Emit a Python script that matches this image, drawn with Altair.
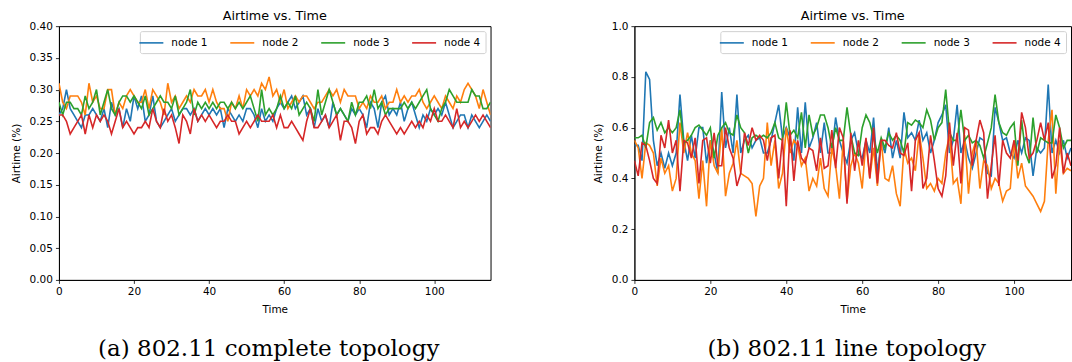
import altair as alt
import pandas as pd

NODES = ["node 1", "node 2", "node 3", "node 4"]
COLORS = ["#1f77b4", "#ff7f0e", "#2ca02c", "#d62728"]

# ---- (a) 802.11 complete topology ----
a_node1 = [0.26, 0.27, 0.30, 0.27, 0.26, 0.25, 0.24, 0.26, 0.26, 0.27,
           0.26, 0.25, 0.27, 0.24, 0.28, 0.26, 0.27, 0.24, 0.27, 0.25,
           0.29, 0.27, 0.29, 0.25, 0.26, 0.29, 0.25, 0.24, 0.25, 0.26,
           0.27, 0.25, 0.26, 0.27, 0.27, 0.26, 0.27, 0.25, 0.26, 0.27,
           0.26, 0.27, 0.26, 0.27, 0.24, 0.27, 0.26, 0.25, 0.26, 0.25,
           0.27, 0.27, 0.26, 0.24, 0.27, 0.25, 0.26, 0.25, 0.27, 0.28,
           0.27, 0.28, 0.29, 0.27, 0.28, 0.29, 0.26, 0.27, 0.24, 0.27,
           0.25, 0.26, 0.24, 0.28, 0.26, 0.27, 0.26, 0.25, 0.27, 0.26,
           0.27, 0.26, 0.24, 0.28, 0.27, 0.24, 0.28, 0.29, 0.26, 0.27,
           0.26, 0.28, 0.25, 0.27, 0.28, 0.26, 0.24, 0.26, 0.25, 0.27,
           0.26, 0.27, 0.26, 0.28, 0.26, 0.24, 0.25, 0.26, 0.26, 0.24,
           0.26, 0.25, 0.24, 0.25, 0.26, 0.25]
a_node2 = [0.31, 0.28, 0.27, 0.29, 0.29, 0.29, 0.28, 0.26, 0.31, 0.28,
           0.29, 0.27, 0.27, 0.30, 0.30, 0.26, 0.28, 0.27, 0.29, 0.30,
           0.29, 0.28, 0.28, 0.30, 0.27, 0.30, 0.29, 0.28, 0.26, 0.31,
           0.28, 0.29, 0.27, 0.28, 0.29, 0.28, 0.30, 0.29, 0.29, 0.30,
           0.28, 0.30, 0.28, 0.27, 0.27, 0.25, 0.28, 0.27, 0.29, 0.27,
           0.30, 0.29, 0.30, 0.29, 0.31, 0.30, 0.32, 0.29, 0.30, 0.28,
           0.30, 0.27, 0.28, 0.29, 0.28, 0.29, 0.29, 0.28, 0.27, 0.28,
           0.28, 0.29, 0.30, 0.29, 0.30, 0.28, 0.30, 0.29, 0.29, 0.29,
           0.27, 0.28, 0.27, 0.29, 0.28, 0.28, 0.29, 0.27, 0.28, 0.28,
           0.30, 0.28, 0.29, 0.28, 0.29, 0.29, 0.30, 0.28, 0.27, 0.28,
           0.29, 0.28, 0.27, 0.29, 0.28, 0.27, 0.29, 0.28, 0.30, 0.31,
           0.30, 0.29, 0.27, 0.30, 0.28, 0.26]
a_node3 = [0.28, 0.26, 0.28, 0.28, 0.27, 0.27, 0.26, 0.29, 0.27, 0.28,
           0.30, 0.26, 0.28, 0.30, 0.27, 0.26, 0.28, 0.29, 0.29, 0.28,
           0.29, 0.28, 0.27, 0.29, 0.26, 0.27, 0.28, 0.29, 0.28, 0.28,
           0.27, 0.29, 0.26, 0.27, 0.28, 0.30, 0.26, 0.28, 0.27, 0.28,
           0.27, 0.28, 0.27, 0.28, 0.28, 0.27, 0.28, 0.27, 0.28, 0.27,
           0.28, 0.29, 0.27, 0.25, 0.30, 0.26, 0.27, 0.26, 0.27, 0.29,
           0.27, 0.28, 0.27, 0.29, 0.26, 0.27, 0.28, 0.27, 0.25, 0.30,
           0.26, 0.28, 0.30, 0.28, 0.26, 0.27, 0.26, 0.25, 0.28, 0.26,
           0.28, 0.28, 0.29, 0.27, 0.30, 0.27, 0.28, 0.26, 0.27, 0.27,
           0.27, 0.27, 0.28, 0.27, 0.28, 0.27, 0.28, 0.29, 0.30, 0.27,
           0.26, 0.25, 0.27, 0.28, 0.30, 0.29, 0.28, 0.28, 0.28, 0.28,
           0.30, 0.29, 0.29, 0.27, 0.27, 0.28]
a_node4 = [0.26, 0.26, 0.25, 0.23, 0.24, 0.25, 0.26, 0.23, 0.26, 0.24,
           0.26, 0.25, 0.26, 0.25, 0.23, 0.25, 0.27, 0.24, 0.25, 0.24,
           0.23, 0.24, 0.24, 0.25, 0.24, 0.27, 0.25, 0.24, 0.27, 0.25,
           0.26, 0.24, 0.215, 0.26, 0.25, 0.23, 0.27, 0.25, 0.26, 0.25,
           0.26, 0.25, 0.24, 0.25, 0.25, 0.26, 0.25, 0.25, 0.23, 0.24,
           0.25, 0.24, 0.25, 0.26, 0.25, 0.25, 0.25, 0.26, 0.24, 0.26,
           0.24, 0.24, 0.25, 0.24, 0.23, 0.22, 0.25, 0.27, 0.24, 0.24,
           0.25, 0.26, 0.24, 0.25, 0.26, 0.22, 0.25, 0.25, 0.24, 0.215,
           0.25, 0.26, 0.23, 0.24, 0.24, 0.23, 0.25, 0.26, 0.25, 0.24,
           0.23, 0.24, 0.23, 0.24, 0.25, 0.24, 0.25, 0.24, 0.26, 0.25,
           0.27, 0.25, 0.25, 0.26, 0.25, 0.24, 0.27, 0.24, 0.25, 0.24,
           0.25, 0.26, 0.25, 0.26, 0.25, 0.24]

# ---- (b) 802.11 line topology ----
b_node1 = [0.53, 0.53, 0.47, 0.82, 0.79, 0.55, 0.45, 0.50, 0.44, 0.50,
           0.45, 0.50, 0.73, 0.55, 0.47, 0.57, 0.48, 0.60, 0.60, 0.46,
           0.55, 0.50, 0.42, 0.74, 0.52, 0.60, 0.50, 0.73, 0.50, 0.55,
           0.57, 0.52, 0.55, 0.56, 0.50, 0.50, 0.55, 0.62, 0.69, 0.56,
           0.60, 0.56, 0.47, 0.68, 0.50, 0.70, 0.52, 0.56, 0.62, 0.50,
           0.62, 0.50, 0.50, 0.64, 0.55, 0.50, 0.46, 0.55, 0.58, 0.50,
           0.48, 0.55, 0.50, 0.64, 0.42, 0.55, 0.50, 0.60, 0.48, 0.55,
           0.48, 0.66, 0.56, 0.58, 0.55, 0.63, 0.55, 0.58, 0.50, 0.55,
           0.62, 0.65, 0.69, 0.50, 0.55, 0.69, 0.50, 0.55, 0.48, 0.44,
           0.50, 0.56, 0.55, 0.42, 0.41, 0.68, 0.62, 0.55, 0.56, 0.50,
           0.48, 0.55, 0.50, 0.56, 0.55, 0.41, 0.52, 0.50, 0.52, 0.77,
           0.50, 0.55, 0.50, 0.55, 0.48, 0.52]
b_node2 = [0.55, 0.52, 0.40, 0.54, 0.53, 0.50, 0.37, 0.48, 0.42, 0.45,
           0.35, 0.40, 0.62, 0.50, 0.58, 0.50, 0.47, 0.32, 0.47, 0.29,
           0.55, 0.45, 0.42, 0.60, 0.33, 0.42, 0.46, 0.55, 0.42, 0.41,
           0.40, 0.38, 0.25, 0.37, 0.40, 0.62, 0.45, 0.55, 0.36, 0.42,
           0.60, 0.50, 0.55, 0.53, 0.45, 0.48, 0.35, 0.40, 0.37, 0.48,
           0.36, 0.33, 0.52, 0.45, 0.32, 0.55, 0.31, 0.45, 0.50, 0.46,
           0.36, 0.55, 0.40, 0.52, 0.37, 0.55, 0.40, 0.39, 0.45, 0.34,
           0.29, 0.52, 0.46, 0.48, 0.43, 0.58, 0.48, 0.36, 0.38, 0.35,
           0.40, 0.38, 0.50, 0.57, 0.38, 0.40, 0.30, 0.57, 0.34, 0.50,
           0.55, 0.36, 0.47, 0.45, 0.36, 0.40, 0.38, 0.31, 0.35, 0.36,
           0.55, 0.40, 0.46, 0.37, 0.35, 0.33, 0.30, 0.27, 0.31, 0.55,
           0.67, 0.34, 0.55, 0.42, 0.44, 0.43]
b_node3 = [0.56, 0.56, 0.57, 0.52, 0.62, 0.64, 0.59, 0.62, 0.58, 0.60,
           0.58, 0.60, 0.67, 0.54, 0.55, 0.57, 0.60, 0.61, 0.59, 0.57,
           0.60, 0.48, 0.57, 0.60, 0.62, 0.58, 0.57, 0.65, 0.60, 0.58,
           0.50, 0.56, 0.57, 0.56, 0.57, 0.56, 0.58, 0.62, 0.56, 0.55,
           0.70, 0.57, 0.59, 0.56, 0.66, 0.52, 0.65, 0.57, 0.60, 0.65,
           0.65, 0.60, 0.52, 0.60, 0.55, 0.55, 0.68, 0.57, 0.50, 0.49,
           0.60, 0.65, 0.62, 0.56, 0.50, 0.56, 0.52, 0.58, 0.55, 0.57,
           0.55, 0.50, 0.62, 0.61, 0.63, 0.62, 0.60, 0.67, 0.63, 0.55,
           0.60, 0.62, 0.75, 0.58, 0.55, 0.55, 0.67, 0.55, 0.57, 0.54,
           0.55, 0.53, 0.48, 0.54, 0.60, 0.73, 0.62, 0.58, 0.57, 0.60,
           0.62, 0.45, 0.63, 0.50, 0.46, 0.64, 0.50, 0.56, 0.55, 0.54,
           0.54, 0.65, 0.60, 0.52, 0.55, 0.55]
b_node4 = [0.47, 0.41, 0.54, 0.53, 0.47, 0.40, 0.38, 0.57, 0.52, 0.63,
           0.50, 0.55, 0.35, 0.55, 0.54, 0.48, 0.56, 0.38, 0.55, 0.56,
           0.46, 0.58, 0.45, 0.45, 0.60, 0.52, 0.48, 0.37, 0.42, 0.58,
           0.53, 0.60, 0.55, 0.57, 0.55, 0.47, 0.56, 0.57, 0.40, 0.56,
           0.29, 0.59, 0.39, 0.55, 0.48, 0.46, 0.52, 0.51, 0.43, 0.56,
           0.44, 0.45, 0.59, 0.44, 0.60, 0.56, 0.30, 0.58, 0.43, 0.55,
           0.45, 0.56, 0.40, 0.60, 0.38, 0.55, 0.55, 0.53, 0.52, 0.58,
           0.50, 0.49, 0.54, 0.35, 0.55, 0.58, 0.36, 0.40, 0.57, 0.47,
           0.36, 0.33, 0.41, 0.62, 0.45, 0.58, 0.38, 0.60, 0.59, 0.45,
           0.55, 0.63, 0.58, 0.32, 0.45, 0.57, 0.37, 0.55, 0.50, 0.48,
           0.55, 0.47, 0.66, 0.60, 0.48, 0.50, 0.55, 0.62, 0.55, 0.62,
           0.40, 0.45, 0.60, 0.42, 0.50, 0.45]

X_TICKS = [0, 20, 40, 60, 80, 100]
A_Y_TICKS = [0.0, 0.05, 0.10, 0.15, 0.20, 0.25, 0.30, 0.35, 0.40]
B_Y_TICKS = [0.0, 0.2, 0.4, 0.6, 0.8, 1.0]
TITLE = "Airtime vs. Time"
CAPTION_A = "(a) 802.11 complete topology"
CAPTION_B = "(b) 802.11 line topology"


def long_df(series):
    rows = []
    for name, vals in zip(NODES, series):
        for t, v in enumerate(vals):
            rows.append({"Time": t, "Airtime": v, "node": name})
    return pd.DataFrame(rows)


def panel(series, y_max, y_ticks, y_fmt, width, caption):
    H = 254
    df = long_df(series)
    lines = alt.Chart(df).mark_line(strokeWidth=1.6, clip=True).encode(
        x=alt.X("Time:Q", scale=alt.Scale(domain=[0, 115], nice=False, zero=False),
                axis=alt.Axis(values=X_TICKS, format="d", title="Time")),
        y=alt.Y("Airtime:Q", scale=alt.Scale(domain=[0, y_max], nice=False),
                axis=alt.Axis(values=y_ticks, format=y_fmt, title="Airtime (%)")),
        color=alt.Color("node:N",
                        scale=alt.Scale(domain=NODES, range=COLORS),
                        legend=alt.Legend(title=None, orient="top-right",
                                          direction="horizontal", columns=4)),
        order=alt.Order("Time:Q"),
    )
    cap = alt.Chart(pd.DataFrame({"caption": [caption]})).mark_text(
        font="DejaVu Serif", fontSize=23, align="center", baseline="alphabetic",
        color="black",
    ).encode(
        text="caption:N",
        x=alt.value(width / 2 - 6),
        y=alt.value(330),
    )
    return alt.layer(lines, cap).properties(
        width=width, height=H, title=alt.Title(TITLE)
    )


left = panel([a_node1, a_node2, a_node3, a_node4], 0.4, A_Y_TICKS, ".2f", 432, CAPTION_A)
right = panel([b_node1, b_node2, b_node3, b_node4], 1.0, B_Y_TICKS, ".1f", 437, CAPTION_B)

chart = alt.hconcat(left, right, spacing=101).resolve_legend(
    color="independent"
).resolve_scale(
    color="independent"
).properties(
    padding={"left": 10, "top": 9, "right": 0, "bottom": 0},
    background="white",
).configure_view(
    stroke="black", strokeWidth=1
).configure_axis(
    grid=False, domainColor="black", tickColor="black", labelColor="black",
    titleColor="black", labelFont="DejaVu Sans", titleFont="DejaVu Sans",
    labelFontSize=10.5, titleFontSize=10.5, titleFontWeight="normal",
    tickSize=3.5, tickWidth=0.8, domainWidth=0.8, labelPadding=3,
    labelFlush=False, titlePadding=8,
).configure_title(
    font="DejaVu Sans", fontSize=12.8, fontWeight="normal", color="black",
    anchor="middle", offset=-2,
).configure_legend(
    symbolType="M-2,0H2", symbolStrokeWidth=1.6, symbolSize=144,
    labelFont="DejaVu Sans", labelFontSize=10.5, labelColor="black",
    labelOffset=13, columnPadding=18, padding=4.5, offset=5,
    strokeColor="#d0d0d0", fillColor="white", cornerRadius=2,
)

chart.save("out.html", embed_options={"renderer": "svg", "actions": False})
